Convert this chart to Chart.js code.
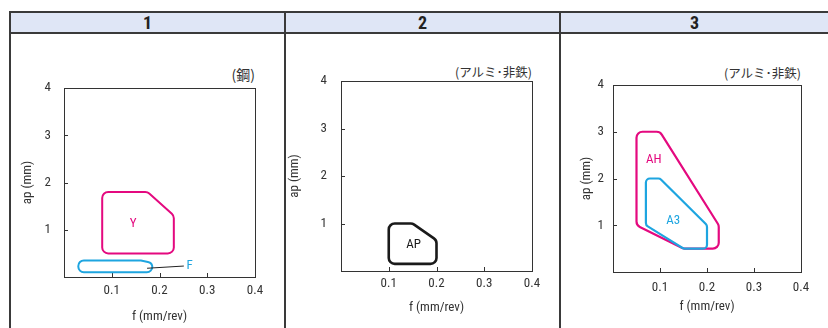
<!DOCTYPE html>
<html><head><meta charset="utf-8">
<script src="https://cdn.jsdelivr.net/npm/chart.js@4.4.0/dist/chart.umd.min.js"></script>
<style>
html,body{margin:0;padding:0;background:#fff;width:828px;height:328px;overflow:hidden;}
#wrap{position:relative;width:828px;height:328px;}
.hdr{position:absolute;top:12px;height:21px;left:10px;width:818px;background:#dfe6f6;}
.line{position:absolute;background:#3a3a3a;}
.htxt{position:absolute;top:12px;height:22px;line-height:22px;font:bold 18px "Roboto Condensed", sans-serif;color:#222;text-align:center;}
.cv{position:absolute;}
.note{position:absolute;font:12.5px "Noto Sans CJK JP", sans-serif;color:#333;white-space:nowrap;line-height:16px;text-align:right;}
</style></head>
<body><div id="wrap">
<div class="hdr"></div>
<div class="line" style="left:9px;top:11px;width:819px;height:2px;"></div>
<div class="line" style="left:9px;top:32px;width:819px;height:2px;"></div>
<div class="line" style="left:9px;top:11px;width:2px;height:317px;"></div>
<div class="line" style="left:284px;top:11px;width:2px;height:317px;"></div>
<div class="line" style="left:559px;top:11px;width:2px;height:317px;"></div>
<div class="htxt" id="h0" style="left:11px;width:273px;"></div>
<div class="htxt" id="h1" style="left:286px;width:273px;"></div>
<div class="htxt" id="h2" style="left:561px;width:267px;"></div>
<div class="note" id="n0" style="right:573px;top:66px;font-size:14px;"></div>
<div class="note" id="n1" style="right:296px;top:64px;"></div>
<div class="note" id="n2" style="right:27px;top:65px;"></div>
<canvas class="cv" id="c0" width="272" height="292" style="left:11px;top:36px;"></canvas>
<canvas class="cv" id="c1" width="273" height="292" style="left:286px;top:36px;"></canvas>
<canvas class="cv" id="c2" width="267" height="292" style="left:561px;top:36px;"></canvas>
</div>
<script>
// ---- data ----
const panelTitles = ['1','2','3'];
const panelNotes = ['(鋼)','(アルミ･非鉄)','(アルミ･非鉄)'];
const xTicks = [0.1,0.2,0.3,0.4];
const yTicks = [1,2,3,4];
const xTickLabels = ['0.1','0.2','0.3','0.4'];
const yTickLabels = ['1','2','3','4'];
const xTitle = 'f (mm/rev)';
const yTitle = 'ap (mm)';

const regionY_f  = [0.08,0.08,0.175,0.23,0.23];
const regionY_ap = [0.5,1.8,1.8,1.3,0.5];
const regionF_f  = [0.03,0.03,0.16,0.185,0.185];
const regionF_ap = [0.1,0.35,0.35,0.3,0.1];
const regionAP_f  = [0.1,0.1,0.15,0.2,0.2];
const regionAP_ap = [0.15,1.0,1.0,0.65,0.15];
const regionAH_f  = [0.05,0.05,0.1,0.225,0.225,0.15];
const regionAH_ap = [1.0,3.0,3.0,1.0,0.5,0.5];
const regionA3_f  = [0.07,0.07,0.1,0.2,0.2,0.15];
const regionA3_ap = [1.0,2.0,2.0,1.0,0.5,0.5];

const labelNames = ['Y','F','AP','AH','A3'];
const labelF  = [0.145,0.263,0.152,0.087,0.128];
const labelAp = [1.13,0.23,0.55,2.4,1.1];
const leaderF  = [0.174,0.251];
const leaderAp = [0.185,0.232];

// ---- styles ----
const MAG = '#e4097f', CYAN = '#1ea5e0', BLK = '#1a1a1a';
const FAM = '"Roboto Condensed","DejaVu Sans Condensed",sans-serif';
const tickFont = {family:FAM, size:13};
const titleFont = {family:FAM, size:13};
const labelFontStr = '13px ' + FAM;

function pts(fs, aps){ return fs.map((f,i)=>({x:f,y:aps[i]})); }

const panels = [
  {regions:[{f:regionY_f,ap:regionY_ap,color:MAG,w:2,r:6},{f:regionF_f,ap:regionF_ap,color:CYAN,w:2,r:5.5}],
   labels:[{i:0,color:MAG},{i:1,color:CYAN}], leader:true,
   padTop:52,padRight:28,yW:53,xH:51,yTitlePad:9.2,yTickPad:13,xTickPad:6,xTitlePad:3.2},
  {regions:[{f:regionAP_f,ap:regionAP_ap,color:BLK,w:2.6,r:6}],
   labels:[{i:2,color:BLK}], leader:false,
   padTop:45,padRight:27,yW:55,xH:57,yTitlePad:1.2,yTickPad:14,xTickPad:5.3,xTitlePad:12.2},
  {regions:[{f:regionAH_f,ap:regionAH_ap,color:MAG,w:2.2,r:6},{f:regionA3_f,ap:regionA3_ap,color:CYAN,w:2.2,r:4}],
   labels:[{i:3,color:MAG},{i:4,color:CYAN}], leader:false,
   padTop:49,padRight:27,yW:52,xH:56,yTitlePad:18.2,yTickPad:9,xTickPad:8.3,xTitlePad:13.2}
];

function roundedPoly(ctx, p, r){
  const n = p.length;
  const sx = (p[n-1].x+p[0].x)/2, sy = (p[n-1].y+p[0].y)/2;
  ctx.beginPath(); ctx.moveTo(sx,sy);
  for(let i=0;i<n;i++){ const a=p[i], b=p[(i+1)%n]; ctx.arcTo(a.x,a.y,b.x,b.y,r); }
  ctx.closePath();
}

const drawPlugin = {
  id:'regions',
  afterDatasetsDraw(chart){
    const ctx = chart.ctx, ca = chart.chartArea, P = chart.config.options.panel;
    const xs = chart.scales.x, ys = chart.scales.y;
    ctx.save();
    ctx.strokeStyle = '#333'; ctx.lineWidth = 1;
    ctx.strokeRect(Math.round(ca.left)+0.5, Math.round(ca.top)+0.5, Math.round(ca.right-ca.left), Math.round(ca.bottom-ca.top));
    ctx.beginPath();
    xTicks.forEach(v=>{ const px=Math.round(xs.getPixelForValue(v))+0.5; ctx.moveTo(px,ca.bottom); ctx.lineTo(px,ca.bottom-4); });
    yTicks.forEach(v=>{ const py=Math.round(ys.getPixelForValue(v))+0.5; ctx.moveTo(ca.left,py); ctx.lineTo(ca.left+4,py); });
    ctx.stroke();
    chart.data.datasets.forEach((ds,di)=>{
      const meta = chart.getDatasetMeta(di);
      const p = meta.data.map(e=>({x:e.x,y:e.y}));
      roundedPoly(ctx,p,ds.cornerRadius);
      ctx.strokeStyle = ds.strokeColor; ctx.lineWidth = ds.strokeWidth; ctx.lineJoin='round';
      ctx.stroke();
    });
    if (P.leader){
      ctx.beginPath(); ctx.strokeStyle='#222'; ctx.lineWidth=1;
      ctx.moveTo(xs.getPixelForValue(leaderF[0]), ys.getPixelForValue(leaderAp[0]));
      ctx.lineTo(xs.getPixelForValue(leaderF[1]), ys.getPixelForValue(leaderAp[1]));
      ctx.stroke();
    }
    ctx.font = labelFontStr; ctx.textAlign='center'; ctx.textBaseline='middle';
    P.labels.forEach(L=>{
      ctx.fillStyle = L.color;
      ctx.fillText(labelNames[L.i], xs.getPixelForValue(labelF[L.i]), ys.getPixelForValue(labelAp[L.i]));
    });
    ctx.restore();
  }
};

panels.forEach((P,k)=>{
  document.getElementById('h'+k).textContent = panelTitles[k];
  document.getElementById('n'+k).textContent = panelNotes[k];
  new Chart(document.getElementById('c'+k), {
    type:'scatter',
    data:{datasets:P.regions.map(R=>({data:pts(R.f,R.ap), showLine:false, pointRadius:0, pointHoverRadius:0,
      strokeColor:R.color, strokeWidth:R.w, cornerRadius:R.r}))},
    options:{
      panel:P,
      responsive:false, animation:false, devicePixelRatio:1, events:[],
      layout:{padding:{left:0,top:P.padTop,right:P.padRight,bottom:0}},
      plugins:{legend:{display:false},tooltip:{enabled:false}},
      scales:{
        x:{type:'linear',min:0,max:0.4,
          afterBuildTicks:s=>{s.ticks=xTicks.map(v=>({value:v}));},
          afterFit:s=>{s.height=P.xH;},
          grid:{display:false,drawTicks:false}, border:{display:false},
          ticks:{padding:P.xTickPad,color:'#333',font:tickFont,maxRotation:0,autoSkip:false,callback:(v,i)=>xTickLabels[i]},
          title:{display:true,text:xTitle,color:'#333',font:titleFont,padding:{top:0,bottom:P.xTitlePad}}},
        y:{type:'linear',min:0,max:4,
          afterBuildTicks:s=>{s.ticks=yTicks.map(v=>({value:v}));},
          afterFit:s=>{s.width=P.yW;},
          grid:{display:false,drawTicks:false}, border:{display:false},
          ticks:{padding:P.yTickPad,color:'#333',font:tickFont,autoSkip:false,callback:(v,i)=>yTickLabels[i]},
          title:{display:true,text:yTitle,color:'#333',font:titleFont,padding:{top:P.yTitlePad,bottom:0}}}
      }
    },
    plugins:[drawPlugin]
  });
});
</script>
</body></html>
